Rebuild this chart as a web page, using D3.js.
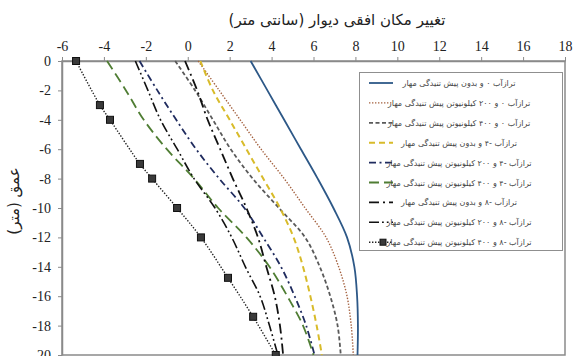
<!DOCTYPE html>
<html>
<head>
<meta charset="utf-8">
<script src="https://cdn.jsdelivr.net/npm/d3@7"></script>
<style>
  html, body { margin: 0; padding: 0; background: #fff; }
  svg { display: block; }
</style>
</head>
<body>
<svg id="chart" width="574" height="356"></svg>
<script>
// Wall horizontal displacement (cm) against depth (m)
const depth = [0, -2, -4, -6, -8, -10, -12, -14, -16, -18, -20];

const wl0None = [3.0, 3.8, 4.6, 5.4, 6.2, 6.95, 7.6, 7.95, 8.08, 8.12, 8.1];
const wl0P200 = [0.5, 1.5, 2.5, 3.5, 4.6, 5.6, 6.6, 7.2, 7.6, 7.8, 7.9];
const wl0P400 = [-0.6, 0.35, 1.2, 2.05, 3.1, 4.35, 5.6, 6.3, 6.8, 7.15, 7.3];
const wl4None = [0.6, 1.2, 2.0, 2.8, 3.6, 4.4, 5.05, 5.5, 5.85, 6.15, 6.4];
const wl4P200 = [-2.3, -1.45, -0.55, 0.4, 1.5, 2.7, 3.6, 4.45, 5.1, 5.65, 6.05];
const wl4P400 = [-3.85, -2.95, -2.1, -1.0, 0.3, 1.45, 2.8, 3.9, 4.75, 5.5, 6.0];
const wl8None = [-0.13, 0.45, 0.95, 1.55, 2.15, 2.8, 3.35, 3.75, 4.15, 4.4, 4.55];
const wl8P200 = [-2.5, -1.9, -1.3, -0.5, 0.3, 1.3, 2.1, 2.75, 3.45, 3.9, 4.3];
const wl8P400Depth = [0, -3, -4, -7, -8, -10, -12, -14.75, -17.4, -20];
const wl8P400 = [-5.33, -4.19, -3.71, -2.28, -1.7, -0.51, 0.63, 1.92, 3.12, 4.2];

const legendLabels = [
  "ترازآب ۰ و بدون پیش تنیدگی مهار",
  "ترازآب ۰ و ۲۰۰ کیلونیوتن پیش تنیدگی مهار",
  "ترازآب ۰ و ۴۰۰ کیلونیوتن پیش تنیدگی مهار",
  "ترازآب -۴ و بدون پیش تنیدگی مهار",
  "ترازآب -۴ و ۲۰۰ کیلونیوتن پیش تنیدگی مهار",
  "ترازآب -۴ و ۴۰۰ کیلونیوتن پیش تنیدگی مهار",
  "ترازآب -۸ و بدون پیش تنیدگی مهار",
  "ترازآب -۸ و ۲۰۰ کیلونیوتن پیش تنیدگی مهار",
  "ترازآب -۸ و ۴۰۰ کیلونیوتن پیش تنیدگی مهار"
];

const xTicks = [-6, -4, -2, 0, 2, 4, 6, 8, 10, 12, 14, 16, 18];
const yTicks = [0, -2, -4, -6, -8, -10, -12, -14, -16, -18, -20];

const xTitle = "تغییر مکان افقی دیوار (سانتی متر)";
const yTitle = "عمق (متر)";

const series = [
  { v: wl0None, d: depth, color: "#2d5887", dash: null, width: 1.8 },
  { v: wl0P200, d: depth, color: "#a4613f", dash: "1.4,1.6", width: 1.4 },
  { v: wl0P400, d: depth, color: "#5a5a5a", dash: "4,2.5", width: 1.8 },
  { v: wl4None, d: depth, color: "#d8bb2a", dash: "6,4", width: 2 },
  { v: wl4P200, d: depth, color: "#1f2b5e", dash: "7,3.5,2,3.5", width: 1.8 },
  { v: wl4P400, d: depth, color: "#4f7d33", dash: "10,5", width: 1.8 },
  { v: wl8None, d: depth, color: "#111111", dash: "10,4,2,4", width: 1.8 },
  { v: wl8P200, d: depth, color: "#111111", dash: "10,3,1.8,3,1.8,3", width: 1.6 },
  { v: wl8P400, d: wl8P400Depth, color: "#222222", dash: "1.4,1.6", width: 1.4, marker: true }
];

const svg = d3.select("#chart");
const x = d3.scaleLinear().domain([-6, 18]).range([62, 565]);
const y = d3.scaleLinear().domain([0, -20]).range([61, 355]);

const serif = "'Liberation Serif', 'Times New Roman', serif";
const arabic = "'DejaVu Sans', sans-serif";

// plot frame
svg.append("rect")
  .attr("x", x(-6)).attr("y", y(0))
  .attr("width", x(18) - x(-6)).attr("height", y(-20) - y(0))
  .attr("fill", "none").attr("stroke", "#8a8a8a").attr("stroke-width", 1.5);

// top axis
const xAxis = svg.append("g")
  .attr("transform", `translate(0,${y(0)})`)
  .call(d3.axisTop(x).tickValues(xTicks).tickFormat(d => String(d)).tickSizeInner(4).tickSizeOuter(0));
xAxis.select(".domain").attr("stroke", "#8a8a8a").attr("stroke-width", 1.5);
xAxis.selectAll(".tick line").attr("stroke", "#8a8a8a");
xAxis.selectAll(".tick text")
  .attr("font-family", serif).attr("font-size", 14).attr("fill", "#222")
  .attr("dy", 0).attr("y", -10);

// left axis
const yAxis = svg.append("g")
  .attr("transform", `translate(${x(-6)},0)`)
  .call(d3.axisLeft(y).tickValues(yTicks).tickFormat(d => String(d)).tickSizeInner(4).tickSizeOuter(0));
yAxis.select(".domain").attr("stroke", "#8a8a8a").attr("stroke-width", 1.5);
yAxis.selectAll(".tick line").attr("stroke", "#8a8a8a");
yAxis.selectAll(".tick text")
  .attr("font-family", serif).attr("font-size", 14).attr("fill", "#222")
  .attr("x", -11);

// axis titles
svg.append("text")
  .attr("x", 337).attr("y", 25)
  .attr("text-anchor", "middle").attr("direction", "rtl")
  .attr("font-family", arabic).attr("font-size", 15).attr("fill", "#222")
  .text(xTitle);

svg.append("text")
  .attr("transform", `translate(19,201) rotate(-90)`)
  .attr("text-anchor", "middle").attr("direction", "rtl")
  .attr("font-family", arabic).attr("font-size", 15).attr("fill", "#222")
  .text(yTitle);

// curves
const line = d3.line()
  .x(p => x(p[0]))
  .y(p => y(p[1]))
  .curve(d3.curveCatmullRom.alpha(0.5));

const plot = svg.append("g");
series.forEach(s => {
  const pts = s.v.map((v, i) => [v, s.d[i]]);
  plot.append("path")
    .attr("d", line(pts))
    .attr("fill", "none")
    .attr("stroke", s.color)
    .attr("stroke-width", s.width)
    .attr("stroke-dasharray", s.dash);
  if (s.marker) {
    plot.selectAll(null).data(pts).enter().append("rect")
      .attr("x", p => x(p[0]) - 3.5).attr("y", p => y(p[1]) - 3.5)
      .attr("width", 7).attr("height", 7)
      .attr("fill", "#3a3a3a").attr("stroke", "#111").attr("stroke-width", 1);
  }
});

// legend
const lg = svg.append("g");
lg.append("rect")
  .attr("x", 359.5).attr("y", 72.5).attr("width", 203).attr("height", 178)
  .attr("fill", "#fff").attr("stroke", "#8f8f8f").attr("stroke-width", 1);

series.forEach((s, i) => {
  const cy = 83 + i * 19.9;
  lg.append("line")
    .attr("x1", 369).attr("x2", 393).attr("y1", cy).attr("y2", cy)
    .attr("stroke", s.color).attr("stroke-width", s.width)
    .attr("stroke-dasharray", s.dash);
  if (s.marker) {
    lg.append("rect")
      .attr("x", 383 - 3).attr("y", cy - 3).attr("width", 6).attr("height", 6)
      .attr("fill", "#3a3a3a").attr("stroke", "#111");
  }
  lg.append("text")
    .attr("x", 459).attr("y", cy + 3)
    .attr("text-anchor", "middle").attr("direction", "rtl")
    .attr("font-family", arabic).attr("font-size", 8).attr("fill", "#444")
    .text(legendLabels[i]);
});
</script>
</body>
</html>
